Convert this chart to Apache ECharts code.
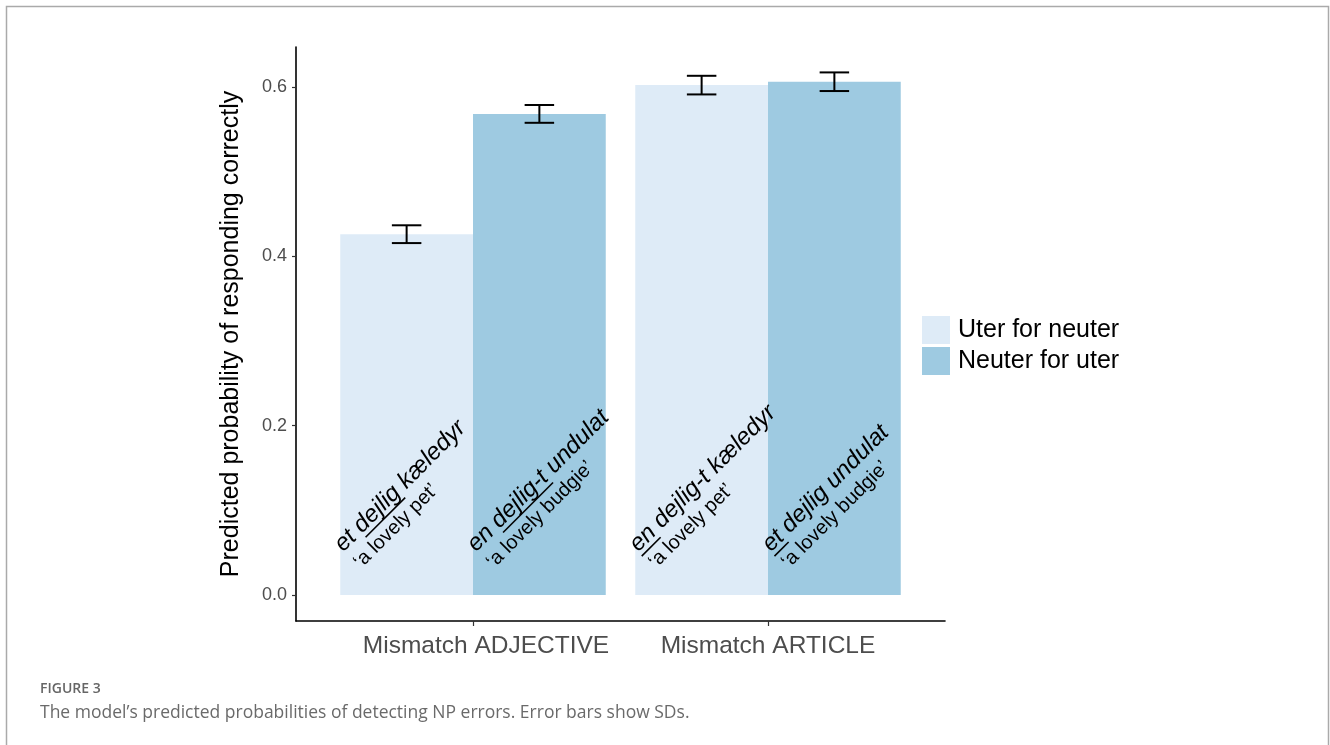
<!DOCTYPE html>
<html><head><meta charset="utf-8">
<script src="https://cdn.jsdelivr.net/npm/echarts@6/dist/echarts.min.js"></script>
<style>html,body{margin:0;padding:0;background:#fff}#c{width:1330px;height:745px}</style>
</head><body><div id="c"></div>
<script>
// ---- data ----
const categories = ['Mismatch ADJECTIVE', 'Mismatch ARTICLE'];
const seriesNames = ['Uter for neuter', 'Neuter for uter'];
const uterForNeuter = [0.426, 0.602];
const uterForNeuterSD = [0.0105, 0.011];
const neuterForUter = [0.568, 0.606];
const neuterForUterSD = [0.0105, 0.011];
const yTicks = [0, 0.2, 0.4, 0.6];
// annotation per bar: [italic phrase, underlined part, gloss]
const uterLabels = [
  ['et dejlig kæledyr', 'dejlig', '‘a lovely pet’'],
  ['en dejlig-t kæledyr', 'en', '‘a lovely pet’']
];
const neuterLabels = [
  ['en dejlig-t undulat', 'dejlig-t', '‘a lovely budgie’'],
  ['et dejlig undulat', 'et', '‘a lovely budgie’']
];
const captionHead = 'FIGURE 3';
const captionText = 'The model’s predicted probabilities of detecting NP errors. Error bars show SDs.';

// ---- layout / style ----
const BAR_W = 0.45;      // width of one dodged bar, in category units
const CAP_W = 0.1;       // error bar cap width, category units
const LABEL_Y = 0.05;    // baseline anchor of the in-bar annotation (data units)
const COLORS = ['#DEEBF7', '#9ECAE1'];
const FONT = '"Liberation Sans", Arial, sans-serif';
const F1 = 24, F2 = 20;

const mctx = document.createElement('canvas').getContext('2d');
function textW(s, font) { mctx.font = font; return mctx.measureText(s).width; }

function barSeries(gi, vals, sds) {
  return {
    type: 'custom', name: seriesNames[gi], itemStyle: { color: COLORS[gi] },
    data: vals.map((v, i) => [i, v, sds[i]]),
    renderItem: function (params, api) {
      const xc = api.value(0) + 1 + (gi - 0.5) * BAR_W;
      const v = api.value(1);
      const p0 = api.coord([xc - BAR_W / 2, v]);
      const p1 = api.coord([xc + BAR_W / 2, 0]);
      return { type: 'rect', shape: { x: p0[0], y: p0[1], width: p1[0] - p0[0], height: p1[1] - p0[1] },
        style: { fill: api.visual('color') } };
    }
  };
}
function errSeries(gi, vals, sds) {
  return {
    type: 'custom', name: seriesNames[gi] + ' SD', z: 5,
    data: vals.map((v, i) => [i, v, sds[i]]),
    renderItem: function (params, api) {
      const xc = api.value(0) + 1 + (gi - 0.5) * BAR_W;
      const v = api.value(1), sd = api.value(2);
      const t = api.coord([xc, v + sd]), b = api.coord([xc, v - sd]);
      const tl = api.coord([xc - CAP_W / 2, v + sd]), tr = api.coord([xc + CAP_W / 2, v + sd]);
      const bl = api.coord([xc - CAP_W / 2, v - sd]), br = api.coord([xc + CAP_W / 2, v - sd]);
      const st = { stroke: '#000', lineWidth: 2 };
      return { type: 'group', children: [
        { type: 'line', shape: { x1: t[0], y1: t[1], x2: b[0], y2: b[1] }, style: st },
        { type: 'line', shape: { x1: tl[0], y1: tl[1], x2: tr[0], y2: tr[1] }, style: st },
        { type: 'line', shape: { x1: bl[0], y1: bl[1], x2: br[0], y2: br[1] }, style: st }
      ] };
    }
  };
}
function labelSeries(gi, labels) {
  return {
    type: 'custom', name: seriesNames[gi] + ' label', z: 6,
    data: labels.map((l, i) => [i, 0]),
    renderItem: function (params, api) {
      const i = api.value(0);
      const lab = labels[i];
      const xl = i + 1 + (gi - 0.5) * BAR_W - BAR_W / 2;
      const a = api.coord([xl, LABEL_Y]);
      const f1 = 'italic ' + F1 + 'px ' + FONT, f2 = F2 + 'px ' + FONT;
      const pre = lab[0].slice(0, lab[0].indexOf(lab[1]));
      const ux = textW(pre, f1), uw = textW(lab[1], f1);
      return { type: 'group', x: a[0] + 4, y: a[1] + 1, rotation: Math.PI / 4, children: [
        { type: 'text', style: { text: lab[0], x: 0, y: -0.34 * F1, font: f1, fill: '#000', verticalAlign: 'middle', align: 'left' } },
        { type: 'line', shape: { x1: ux, y1: 3.5, x2: ux + uw, y2: 3.5 }, style: { stroke: '#000', lineWidth: 1.6 } },
        { type: 'text', style: { text: lab[2], x: 1, y: 24 - 0.34 * F2, font: f2, fill: '#000', verticalAlign: 'middle', align: 'left' } }
      ] };
    }
  };
}

const chart = echarts.init(document.getElementById('c'), null, { renderer: 'canvas' });
chart.setOption({
  animation: false,
  backgroundColor: '#fff',
  title: [
    { text: captionHead, left: 40, top: 682, padding: 0, textStyle: { fontSize: 14, fontWeight: 600, color: '#666', fontFamily: '"Open Sans", sans-serif' } },
    { text: captionText, left: 40, top: 704, padding: 0, textStyle: { fontSize: 17.5, fontWeight: 'normal', color: '#6a6a6a', fontFamily: '"Open Sans", sans-serif' } }
  ],
  graphic: [
    { type: 'rect', shape: { x: 6.5, y: 6.5, width: 1322, height: 800 }, style: { fill: 'none', stroke: '#aaa', lineWidth: 1.5 }, silent: true }
  ],
  legend: {
    orient: 'vertical', left: 922, top: 316, itemWidth: 28, itemHeight: 28, itemGap: 3, padding: 0,
    icon: 'rect', data: seriesNames,
    textStyle: { fontSize: 25, color: '#000', fontFamily: FONT, padding: [0, 0, 0, 3] }
  },
  grid: { left: 296, right: 385, top: 47, bottom: 124, outerBoundsMode: 'none' },
  xAxis: {
    type: 'value', min: 0.4, max: 2.6, splitLine: { show: false },
    axisLine: { show: true, onZero: false, lineStyle: { color: '#000', width: 1.6 } },
    axisTick: { show: true, customValues: [1, 2], length: 5, lineStyle: { color: '#333', width: 1.2 } },
    axisLabel: {
      customValues: [1, 2], margin: 13,
      formatter: v => (Math.round(v) === 1 ? '{a|' : '{b|') + categories[Math.round(v) - 1] + '}',
      rich: {
        a: { fontSize: 24.5, color: '#4d4d4d', fontFamily: FONT, padding: [0, 0, 0, 26] },
        b: { fontSize: 24.5, color: '#4d4d4d', fontFamily: FONT }
      }
    }
  },
  yAxis: {
    type: 'value', min: -0.0307, max: 0.647, splitLine: { show: false },
    axisLine: { show: true, onZero: false, lineStyle: { color: '#000', width: 1.6 } },
    axisTick: { show: true, customValues: yTicks, length: 4, lineStyle: { color: '#333', width: 1.2 } },
    axisLabel: { customValues: yTicks, formatter: v => v.toFixed(1), fontSize: 18, color: '#4d4d4d', fontFamily: FONT, margin: 9 },
    name: 'Predicted probability of responding correctly', nameLocation: 'middle', nameGap: 52,
    nameTextStyle: { fontSize: 25, color: '#000', fontFamily: FONT }
  },
  series: [
    barSeries(0, uterForNeuter, uterForNeuterSD),
    barSeries(1, neuterForUter, neuterForUterSD),
    errSeries(0, uterForNeuter, uterForNeuterSD),
    errSeries(1, neuterForUter, neuterForUterSD),
    labelSeries(0, uterLabels),
    labelSeries(1, neuterLabels)
  ]
});
</script></body></html>
